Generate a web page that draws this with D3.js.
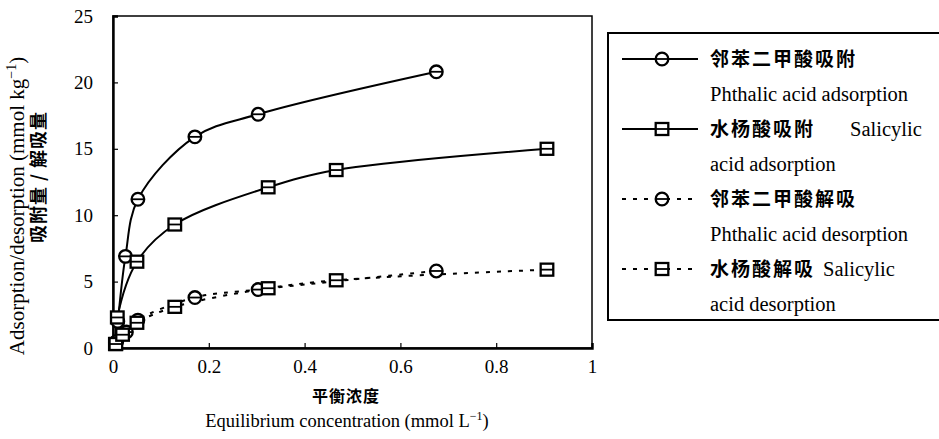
<!DOCTYPE html>
<html lang="zh">
<head>
<meta charset="UTF-8">
<title>Adsorption / desorption</title>
<script src="https://d3js.org/d3.v7.min.js"></script>
<style>
  body { margin: 0; background: #fff; }
  text { fill: #000; }
  .en { font-family: "Liberation Serif", "DejaVu Serif", serif; }
  .zh { font-family: "Noto Sans CJK SC", sans-serif; font-weight: 700; }
</style>
</head>
<body>
<script>
// concentration (mmol/L), amount (mmol/kg)
var phthalicAds = [[0.005, 0.4], [0.010, 2.0], [0.026, 6.9], [0.052, 11.2], [0.171, 15.9], [0.303, 17.6], [0.675, 20.8]];
var salicylicAds = [[0.005, 0.3], [0.009, 2.3], [0.050, 6.5], [0.129, 9.3], [0.324, 12.1], [0.466, 13.4], [0.906, 15.0]];
var phthalicDes = [[0.008, 0.5], [0.028, 1.2], [0.052, 2.1], [0.171, 3.8], [0.303, 4.4], [0.675, 5.8]];
var salicylicDes = [[0.006, 0.3], [0.020, 1.0], [0.050, 1.9], [0.129, 3.1], [0.324, 4.5], [0.466, 5.1], [0.906, 5.9]];

var xTicks = [0, 0.2, 0.4, 0.6, 0.8, 1];
var yTicks = [0, 5, 10, 15, 20, 25];

var series = [
  { data: phthalicAds, marker: "circle", dashed: false, zh: "邻苯二甲酸吸附", en1: "", en2: "Phthalic acid adsorption" },
  { data: salicylicAds, marker: "square", dashed: false, zh: "水杨酸吸附", en1: "Salicylic", en2: "acid adsorption" },
  { data: phthalicDes, marker: "circle", dashed: true, zh: "邻苯二甲酸解吸", en1: "", en2: "Phthalic acid desorption" },
  { data: salicylicDes, marker: "square", dashed: true, zh: "水杨酸解吸", en1: "Salicylic", en2: "acid desorption" }
];

var W = 939, H = 439;
var pL = 113, pR = 592, pT = 16, pB = 348;
var dash = "4,7";

var svg = d3.select("body").append("svg").attr("width", W).attr("height", H);

var x = d3.scaleLinear().domain([0, 1]).range([pL, pR]);
var y = d3.scaleLinear().domain([0, 25]).range([pB, pT]);

// frame
svg.append("rect")
  .attr("x", pL).attr("y", pT)
  .attr("width", pR - pL).attr("height", pB - pT)
  .attr("fill", "none").attr("stroke", "#000").attr("stroke-width", 1.5);

// axes
var xAxis = svg.append("g").attr("transform", "translate(0," + pB + ")")
  .call(d3.axisBottom(x).tickValues(xTicks).tickSize(-5).tickPadding(12)
    .tickFormat(function(d) { return d === 0 || d === 1 ? d : d3.format(".1f")(d); }));
var yAxis = svg.append("g").attr("transform", "translate(" + pL + ",0)")
  .call(d3.axisLeft(y).tickValues(yTicks).tickSize(-5).tickPadding(20));

[xAxis, yAxis].forEach(function(g) {
  g.select(".domain").attr("stroke-width", 2.4);
  g.selectAll(".tick line").attr("stroke-width", 1.2);
  g.selectAll(".tick text").attr("class", "en").style("font-size", "19px");
});

// lines
var line = d3.line()
  .x(function(d) { return x(d[0]); })
  .y(function(d) { return y(d[1]); })
  .curve(d3.curveCatmullRom.alpha(0.5));

function drawMarker(g, type, cx, cy) {
  if (type === "circle") {
    g.append("circle").attr("cx", cx).attr("cy", cy).attr("r", 6.3)
      .attr("fill", "#fff").attr("stroke", "#000").attr("stroke-width", 2.3);
  } else {
    g.append("rect").attr("x", cx - 6.3).attr("y", cy - 6).attr("width", 12.6).attr("height", 12)
      .attr("fill", "#fff").attr("stroke", "#000").attr("stroke-width", 2.3);
  }
  g.append("line").attr("x1", cx - 6).attr("x2", cx + 6).attr("y1", cy).attr("y2", cy)
    .attr("stroke", "#000").attr("stroke-width", 1.8);
}

series.forEach(function(s) {
  svg.append("path").datum(s.data)
    .attr("d", line)
    .attr("fill", "none").attr("stroke", "#000").attr("stroke-width", 2)
    .attr("stroke-dasharray", s.dashed ? dash : null);
});
series.forEach(function(s) {
  var g = svg.append("g");
  s.data.forEach(function(d) { drawMarker(g, s.marker, x(d[0]), y(d[1])); });
});

// axis titles
svg.append("text").attr("class", "zh")
  .attr("x", 346).attr("y", 402).attr("text-anchor", "middle")
  .style("font-size", "16px").style("letter-spacing", "1px").text("平衡浓度");
var xt = svg.append("text").attr("class", "en")
  .attr("x", 347).attr("y", 427).attr("text-anchor", "middle")
  .style("font-size", "18.5px");
xt.append("tspan").text("Equilibrium concentration (mmol L");
xt.append("tspan").attr("dy", -7).style("font-size", "12px").text("−1");
xt.append("tspan").attr("dy", 7).text(")");

// anchor is taken on the first chunk only, so the centre sits a bit low
var yt = svg.append("text").attr("class", "en")
  .attr("transform", "translate(24,206) rotate(-90)")
  .attr("text-anchor", "middle").style("font-size", "21px");
yt.append("tspan").text("Adsorption/desorption (mmol kg");
yt.append("tspan").attr("dy", -8).style("font-size", "14px").text("−1");
yt.append("tspan").attr("dy", 8).text(")");
svg.append("text").attr("class", "zh")
  .attr("transform", "translate(45,177) rotate(-90)")
  .attr("text-anchor", "middle").style("font-size", "18px").style("letter-spacing", "1px")
  .text("吸附量 / 解吸量");

// legend
var lg = svg.append("g");
lg.append("rect").attr("x", 608).attr("y", 33).attr("width", 345).attr("height", 287)
  .attr("fill", "#fff").attr("stroke", "#000").attr("stroke-width", 2);
var rowY = [59, 129, 199, 269];
var salX = [0, 850, 0, 823];
series.forEach(function(s, i) {
  var ry = rowY[i];
  lg.append("line").attr("x1", 622).attr("x2", 698).attr("y1", ry).attr("y2", ry)
    .attr("stroke", "#000").attr("stroke-width", 2)
    .attr("stroke-dasharray", s.dashed ? dash : null);
  drawMarker(lg, s.marker, 662, ry);
  lg.append("text").attr("class", "zh").attr("x", 710).attr("y", ry + 7)
    .style("font-size", "19px").style("letter-spacing", "2px").text(s.zh);
  if (s.en1) {
    lg.append("text").attr("class", "en").attr("x", salX[i]).attr("y", ry + 7)
      .style("font-size", "20.5px").text(s.en1);
  }
  lg.append("text").attr("class", "en").attr("x", 710).attr("y", ry + 42)
    .style("font-size", "20.5px").text(s.en2);
});
</script>
</body>
</html>
